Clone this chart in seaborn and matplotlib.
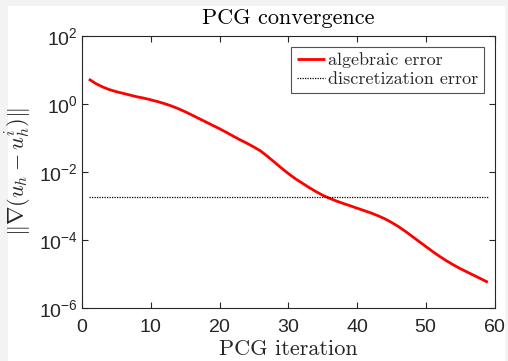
import numpy as np
import pandas as pd
import matplotlib
matplotlib.use("Agg")
import matplotlib.pyplot as plt
import matplotlib.ticker as mticker
import seaborn as sns

# ---- data ----
iterations = list(range(1, 60))
algebraic_error = [
    5.37, 3.98, 3.16, 2.63, 2.29, 2.04, 1.82, 1.62, 1.48, 1.32,
    1.17, 1.02, 0.871, 0.724, 0.589, 0.468, 0.372, 0.295, 0.234, 0.186,
    0.145, 0.112, 0.0871, 0.0692, 0.0537, 0.0407, 0.0282, 0.0191, 0.0129, 0.00891,
    0.00631, 0.00468, 0.00347, 0.00263, 0.00204, 0.00166, 0.00138, 0.00117, 0.00100, 0.000851,
    0.000724, 0.000617, 0.000513, 0.000417, 0.000324, 0.000245, 0.000178, 0.000126, 0.0000891, 0.0000631,
    0.0000447, 0.0000324, 0.0000240, 0.0000182, 0.0000141, 0.0000112, 0.00000891, 0.00000708, 0.00000562,
]
discretization_error = 1.8e-3
x_ticks = [0, 10, 20, 30, 40, 50, 60]
y_ticks = [1e-6, 1e-4, 1e-2, 1e0, 1e2]

title = "PCG convergence"
xlabel = "PCG iteration"
ylabel = r"$\|\nabla(u_h - u_h^i)\|$"
labels = ["algebraic error", "discretization error"]

df = pd.DataFrame({"iteration": iterations, "error": algebraic_error})
df_disc = pd.DataFrame({"iteration": [iterations[0], iterations[-1]],
                        "error": [discretization_error, discretization_error]})

sns.set_style("ticks")
plt.rcParams["font.family"] = ["Liberation Sans", "DejaVu Sans"]
plt.rcParams["mathtext.fontset"] = "cm"
plt.rcParams["axes.formatter.use_mathtext"] = True

W, H = 508, 361
fig = plt.figure(figsize=(W / 100, H / 100), dpi=100)
fig.patch.set_facecolor("white")
# light grey screenshot border
fig.add_artist(plt.Rectangle((0, 0), 8 / W, 1, transform=fig.transFigure,
                             color="#f3f3f3", lw=0, zorder=-10))
fig.add_artist(plt.Rectangle((0, 1 - 6 / H), 1, 6 / H, transform=fig.transFigure,
                             color="#f3f3f3", lw=0, zorder=-10))
fig.add_artist(plt.Rectangle((1 - 3 / W, 0), 3 / W, 1, transform=fig.transFigure,
                             color="#f3f3f3", lw=0, zorder=-10))

left, right, top, bottom = 82, 494.7, 36, 307.7
ax = fig.add_axes([left / W, 1 - bottom / H, (right - left) / W, (bottom - top) / H])

sns.lineplot(data=df, x="iteration", y="error", ax=ax, color="#ff0000",
             linewidth=2.0, label=labels[0], solid_joinstyle="round",
             solid_capstyle="butt")
sns.lineplot(data=df_disc, x="iteration", y="error", ax=ax, color="black",
             linewidth=0.9, linestyle=(0, (1, 1)), label=labels[1])

ax.set_yscale("log")
ax.set_xlim(0, 60)
ax.set_ylim(1e-6, 1e2)
ax.set_xticks(x_ticks)
ax.set_yticks(y_ticks)
ax.yaxis.set_minor_locator(mticker.NullLocator())
ax.yaxis.set_major_formatter(mticker.FuncFormatter(
    lambda v, p: r"$\mathregular{10^{%d}}$" % int(round(np.log10(v)))))

for s in ax.spines.values():
    s.set_color("#262626")
    s.set_linewidth(0.8)
ax.tick_params(axis="both", which="major", direction="in", length=4, width=0.8,
               color="#262626", labelcolor="#262626", labelsize=14,
               top=True, right=True)
ax.tick_params(axis="x", pad=8)
ax.tick_params(axis="y", pad=3)

ax.set_title(title, fontfamily="cmr10", fontsize=16, pad=9, color="black")
ax.set_xlabel(xlabel, fontfamily="cmr10", fontsize=16, labelpad=3, color="#262626")
ax.set_ylabel(ylabel, fontsize=16, labelpad=4, color="#262626")

leg = ax.legend(loc="upper right", prop={"family": "cmr10", "size": 13},
                frameon=True, fancybox=False, edgecolor="#262626",
                handlelength=1.6, handletextpad=0.15, borderpad=0.3,
                labelspacing=0.2, borderaxespad=0.6)
leg.get_frame().set_linewidth(0.8)

fig.savefig("out.png", dpi=100)
